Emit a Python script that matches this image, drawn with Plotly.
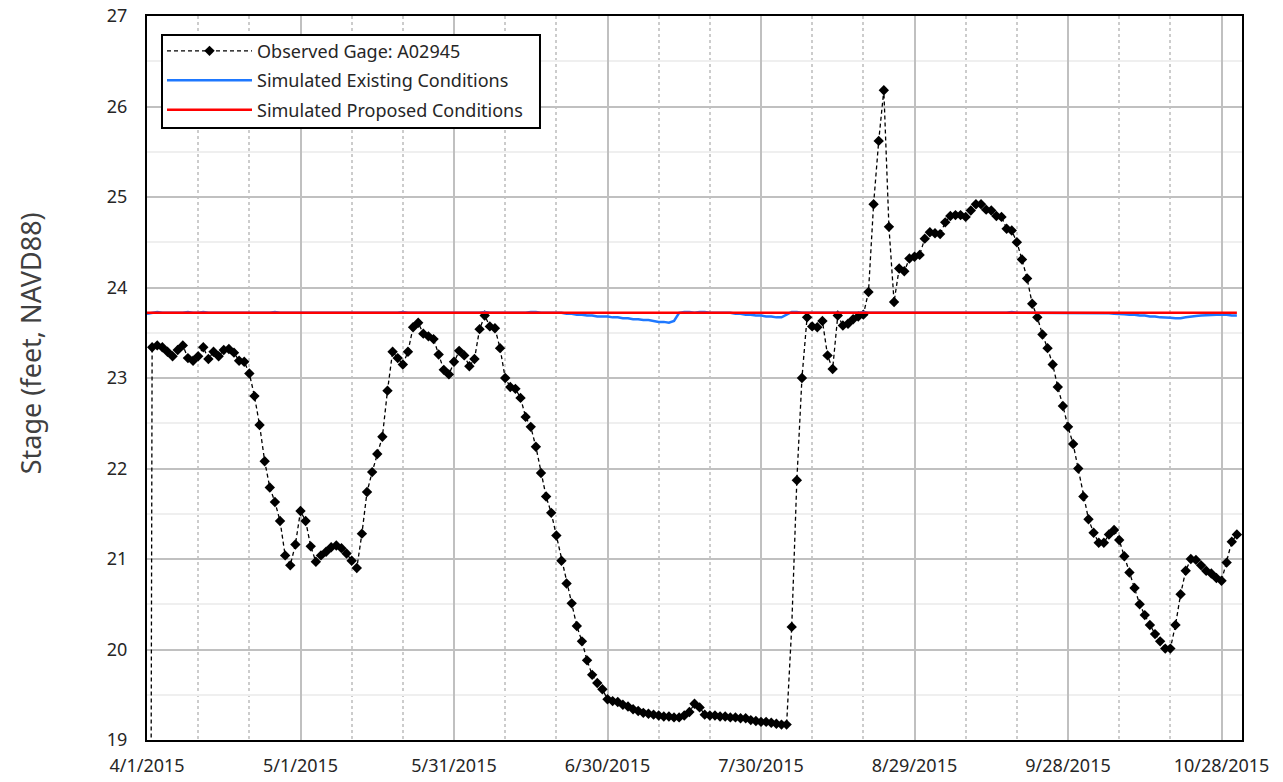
import pandas as pd
import plotly.graph_objects as go

start_date = "2015-04-01"
n_days = 214
dates = pd.date_range(start_date, periods=n_days, freq="D")

observed = [
    0.00, 23.34, 23.36, 23.34, 23.29, 23.24, 23.31, 23.36, 23.22, 23.19,
    23.24, 23.34, 23.21, 23.29, 23.24, 23.31, 23.32, 23.28, 23.19, 23.18,
    23.05, 22.80, 22.48, 22.08, 21.79, 21.63, 21.42, 21.04, 20.93, 21.16,
    21.53, 21.42, 21.14, 20.97, 21.04, 21.08, 21.13, 21.15, 21.12, 21.06,
    20.98, 20.90, 21.28, 21.74, 21.96, 22.16, 22.35, 22.86, 23.29, 23.22,
    23.15, 23.29, 23.56, 23.61, 23.49, 23.46, 23.43, 23.26, 23.09, 23.04,
    23.18, 23.30, 23.25, 23.13, 23.21, 23.54, 23.69, 23.57, 23.55, 23.33,
    23.00, 22.90, 22.88, 22.78, 22.57, 22.46, 22.24, 21.95, 21.69, 21.51,
    21.26, 20.98, 20.73, 20.51, 20.26, 20.09, 19.88, 19.72, 19.63, 19.56,
    19.45, 19.43, 19.42, 19.39, 19.37, 19.34, 19.32, 19.30, 19.29, 19.28,
    19.27, 19.26, 19.26, 19.25, 19.25, 19.27, 19.31, 19.40, 19.36, 19.28,
    19.27, 19.27, 19.26, 19.26, 19.25, 19.25, 19.24, 19.24, 19.22, 19.21,
    19.20, 19.20, 19.19, 19.18, 19.17, 19.17, 20.25, 21.87, 23.00, 23.67,
    23.57, 23.56, 23.63, 23.25, 23.10, 23.69, 23.58, 23.60, 23.65, 23.68,
    23.70, 23.95, 24.92, 25.62, 26.18, 24.67, 23.84, 24.21, 24.18, 24.32,
    24.34, 24.36, 24.54, 24.61, 24.60, 24.59, 24.72, 24.79, 24.80, 24.80,
    24.78, 24.85, 24.92, 24.92, 24.86, 24.85, 24.79, 24.78, 24.65, 24.63,
    24.50, 24.31, 24.10, 23.82, 23.67, 23.48, 23.33, 23.15, 22.90, 22.69,
    22.46, 22.27, 22.00, 21.69, 21.44, 21.29, 21.18, 21.18, 21.27, 21.32,
    21.21, 21.03, 20.85, 20.68, 20.50, 20.38, 20.27, 20.17, 20.09, 20.01,
    20.01, 20.27, 20.61, 20.87, 21.00, 20.99, 20.93, 20.87, 20.84, 20.79,
    20.76, 20.96, 21.19, 21.27,
]

existing = [
    23.71, 23.72, 23.73, 23.72, 23.72, 23.72, 23.72, 23.72, 23.73, 23.72,
    23.72, 23.73, 23.72, 23.72, 23.72, 23.72, 23.72, 23.72, 23.72, 23.72,
    23.72, 23.72, 23.72, 23.72, 23.72, 23.73, 23.72, 23.72, 23.72, 23.72,
    23.72, 23.72, 23.72, 23.72, 23.72, 23.72, 23.72, 23.72, 23.72, 23.72,
    23.72, 23.72, 23.72, 23.72, 23.72, 23.72, 23.72, 23.72, 23.72, 23.72,
    23.73, 23.72, 23.72, 23.72, 23.72, 23.72, 23.72, 23.72, 23.72, 23.72,
    23.72, 23.72, 23.72, 23.72, 23.72, 23.72, 23.73, 23.72, 23.72, 23.72,
    23.72, 23.72, 23.72, 23.72, 23.72, 23.73, 23.73, 23.72, 23.72, 23.72,
    23.72, 23.72, 23.71, 23.71, 23.70, 23.70, 23.69, 23.69, 23.68, 23.68,
    23.68, 23.67, 23.67, 23.66, 23.66, 23.65, 23.65, 23.64, 23.64, 23.63,
    23.62, 23.62, 23.61, 23.63, 23.72, 23.73, 23.73, 23.72, 23.73, 23.73,
    23.72, 23.72, 23.72, 23.72, 23.72, 23.71, 23.71, 23.70, 23.70, 23.69,
    23.69, 23.68, 23.68, 23.67, 23.67, 23.70, 23.73, 23.73, 23.72, 23.72,
    23.72, 23.72, 23.72, 23.72, 23.72, 23.72, 23.72, 23.72, 23.72, 23.72,
    23.73, 23.72, 23.72, 23.72, 23.72, 23.72, 23.72, 23.72, 23.72, 23.72,
    23.72, 23.72, 23.72, 23.72, 23.72, 23.72, 23.72, 23.72, 23.72, 23.72,
    23.72, 23.72, 23.72, 23.72, 23.72, 23.72, 23.72, 23.72, 23.72, 23.73,
    23.72, 23.72, 23.72, 23.72, 23.72, 23.72, 23.72, 23.72, 23.72, 23.72,
    23.72, 23.72, 23.72, 23.72, 23.72, 23.72, 23.72, 23.72, 23.715, 23.71,
    23.71, 23.705, 23.70, 23.70, 23.69, 23.69, 23.68, 23.68, 23.67, 23.67,
    23.665, 23.66, 23.66, 23.67, 23.68, 23.685, 23.69, 23.69, 23.695, 23.70,
    23.70, 23.70, 23.69, 23.69,
]

proposed = [
    23.72, 23.72, 23.72, 23.72, 23.72, 23.72, 23.72, 23.72, 23.72, 23.72,
    23.72, 23.72, 23.72, 23.72, 23.72, 23.72, 23.72, 23.72, 23.72, 23.72,
    23.72, 23.72, 23.72, 23.72, 23.72, 23.72, 23.72, 23.72, 23.72, 23.72,
    23.72, 23.72, 23.72, 23.72, 23.72, 23.72, 23.72, 23.72, 23.72, 23.72,
    23.72, 23.72, 23.72, 23.72, 23.72, 23.72, 23.72, 23.72, 23.72, 23.72,
    23.72, 23.72, 23.72, 23.72, 23.72, 23.72, 23.72, 23.72, 23.72, 23.72,
    23.72, 23.72, 23.72, 23.72, 23.72, 23.72, 23.72, 23.72, 23.72, 23.72,
    23.72, 23.72, 23.72, 23.72, 23.72, 23.72, 23.72, 23.72, 23.72, 23.72,
    23.72, 23.72, 23.72, 23.72, 23.72, 23.72, 23.72, 23.72, 23.72, 23.72,
    23.72, 23.72, 23.72, 23.72, 23.72, 23.72, 23.72, 23.72, 23.72, 23.72,
    23.72, 23.72, 23.72, 23.72, 23.72, 23.72, 23.72, 23.72, 23.72, 23.72,
    23.72, 23.72, 23.72, 23.72, 23.72, 23.72, 23.72, 23.72, 23.72, 23.72,
    23.72, 23.72, 23.72, 23.72, 23.72, 23.72, 23.72, 23.72, 23.72, 23.72,
    23.72, 23.72, 23.72, 23.72, 23.72, 23.72, 23.72, 23.72, 23.72, 23.72,
    23.72, 23.72, 23.72, 23.72, 23.72, 23.72, 23.72, 23.72, 23.72, 23.72,
    23.72, 23.72, 23.72, 23.72, 23.72, 23.72, 23.72, 23.72, 23.72, 23.72,
    23.72, 23.72, 23.72, 23.72, 23.72, 23.72, 23.72, 23.72, 23.72, 23.72,
    23.72, 23.72, 23.72, 23.72, 23.72, 23.72, 23.72, 23.72, 23.72, 23.72,
    23.72, 23.72, 23.72, 23.72, 23.72, 23.72, 23.72, 23.72, 23.72, 23.72,
    23.72, 23.72, 23.72, 23.72, 23.72, 23.72, 23.72, 23.72, 23.72, 23.72,
    23.72, 23.72, 23.72, 23.72, 23.72, 23.72, 23.72, 23.72, 23.72, 23.72,
    23.72, 23.72, 23.72, 23.72,
]

series_names = [
    "Observed Gage: A02945",
    "Simulated Existing Conditions",
    "Simulated Proposed Conditions",
]

x_range = ["2015-04-01", "2015-11-01"]
y_range = [19, 27]
y_title = "Stage (feet, NAVD88)"

DAY_MS = 86400000
FONT = "Noto Sans, Open Sans, DejaVu Sans, sans-serif"
TEXT = "#262626"

fig = go.Figure()
fig.add_trace(go.Scatter(
    x=dates, y=observed, name=series_names[0], mode="lines+markers",
    line=dict(color="black", width=1.3, dash="4px,3px"),
    marker=dict(symbol="diamond", size=8, color="black"),
    legendgroup="a",
))
fig.add_trace(go.Scatter(
    x=dates, y=existing, name=series_names[1], mode="lines",
    line=dict(color="#1E78FF", width=2.5),
    legendgroup="b",
))
fig.add_trace(go.Scatter(
    x=dates, y=proposed, name=series_names[2], mode="lines",
    line=dict(color="#FF0000", width=2.5),
    legendgroup="c",
))

fig.update_layout(
    width=1283, height=782,
    margin=dict(l=147, r=41, t=16, b=42, autoexpand=False),
    paper_bgcolor="white", plot_bgcolor="white",
    font=dict(family=FONT, size=18, color=TEXT),
    showlegend=True,
    legend=dict(
        x=0.0137, y=0.977, xanchor="left", yanchor="top",
        bgcolor="rgba(0,0,0,0)", borderwidth=0,
        font=dict(family=FONT, size=18, color=TEXT),
        tracegroupgap=3, traceorder="grouped", itemwidth=85,
    ),
    shapes=[dict(
        type="rect", xref="paper", yref="paper",
        x0=0.0137, x1=0.3589, y0=0.8453, y1=0.9738,
        fillcolor="white", line=dict(color="black", width=2), layer="above",
    )],
    xaxis=dict(
        type="date", range=x_range, automargin=False,
        tick0=start_date, dtick=30 * DAY_MS, tickformat="%-m/%-d/%Y",
        showgrid=True, gridcolor="#c0c0c0", gridwidth=2,
        showline=True, linecolor="black", linewidth=2, mirror=True,
        ticks="outside", ticklen=8, tickcolor="rgba(0,0,0,0)",
        tickfont=dict(family=FONT, size=18, color=TEXT),
        minor=dict(dtick=10 * DAY_MS, tick0=start_date, showgrid=True,
                   gridcolor="#cccccc", gridwidth=1.5, griddash="dot"),
        zeroline=False,
    ),
    yaxis=dict(
        range=y_range, dtick=1, automargin=False,
        showgrid=True, gridcolor="#c0c0c0", gridwidth=2,
        showline=True, linecolor="black", linewidth=2, mirror=True,
        ticks="outside", ticklen=14, tickcolor="rgba(0,0,0,0)",
        tickfont=dict(family=FONT, size=18, color=TEXT),
        minor=dict(dtick=0.5, showgrid=True, gridcolor="#efefef", gridwidth=2),
        zeroline=False,
    ),
    annotations=[dict(
        text=y_title, textangle=-90, showarrow=False,
        xref="paper", yref="paper", x=-0.1068, y=0.548,
        xanchor="center", yanchor="middle",
        font=dict(family=FONT, size=27, color="#404040"),
    )],
)

fig.write_html("out.html")
